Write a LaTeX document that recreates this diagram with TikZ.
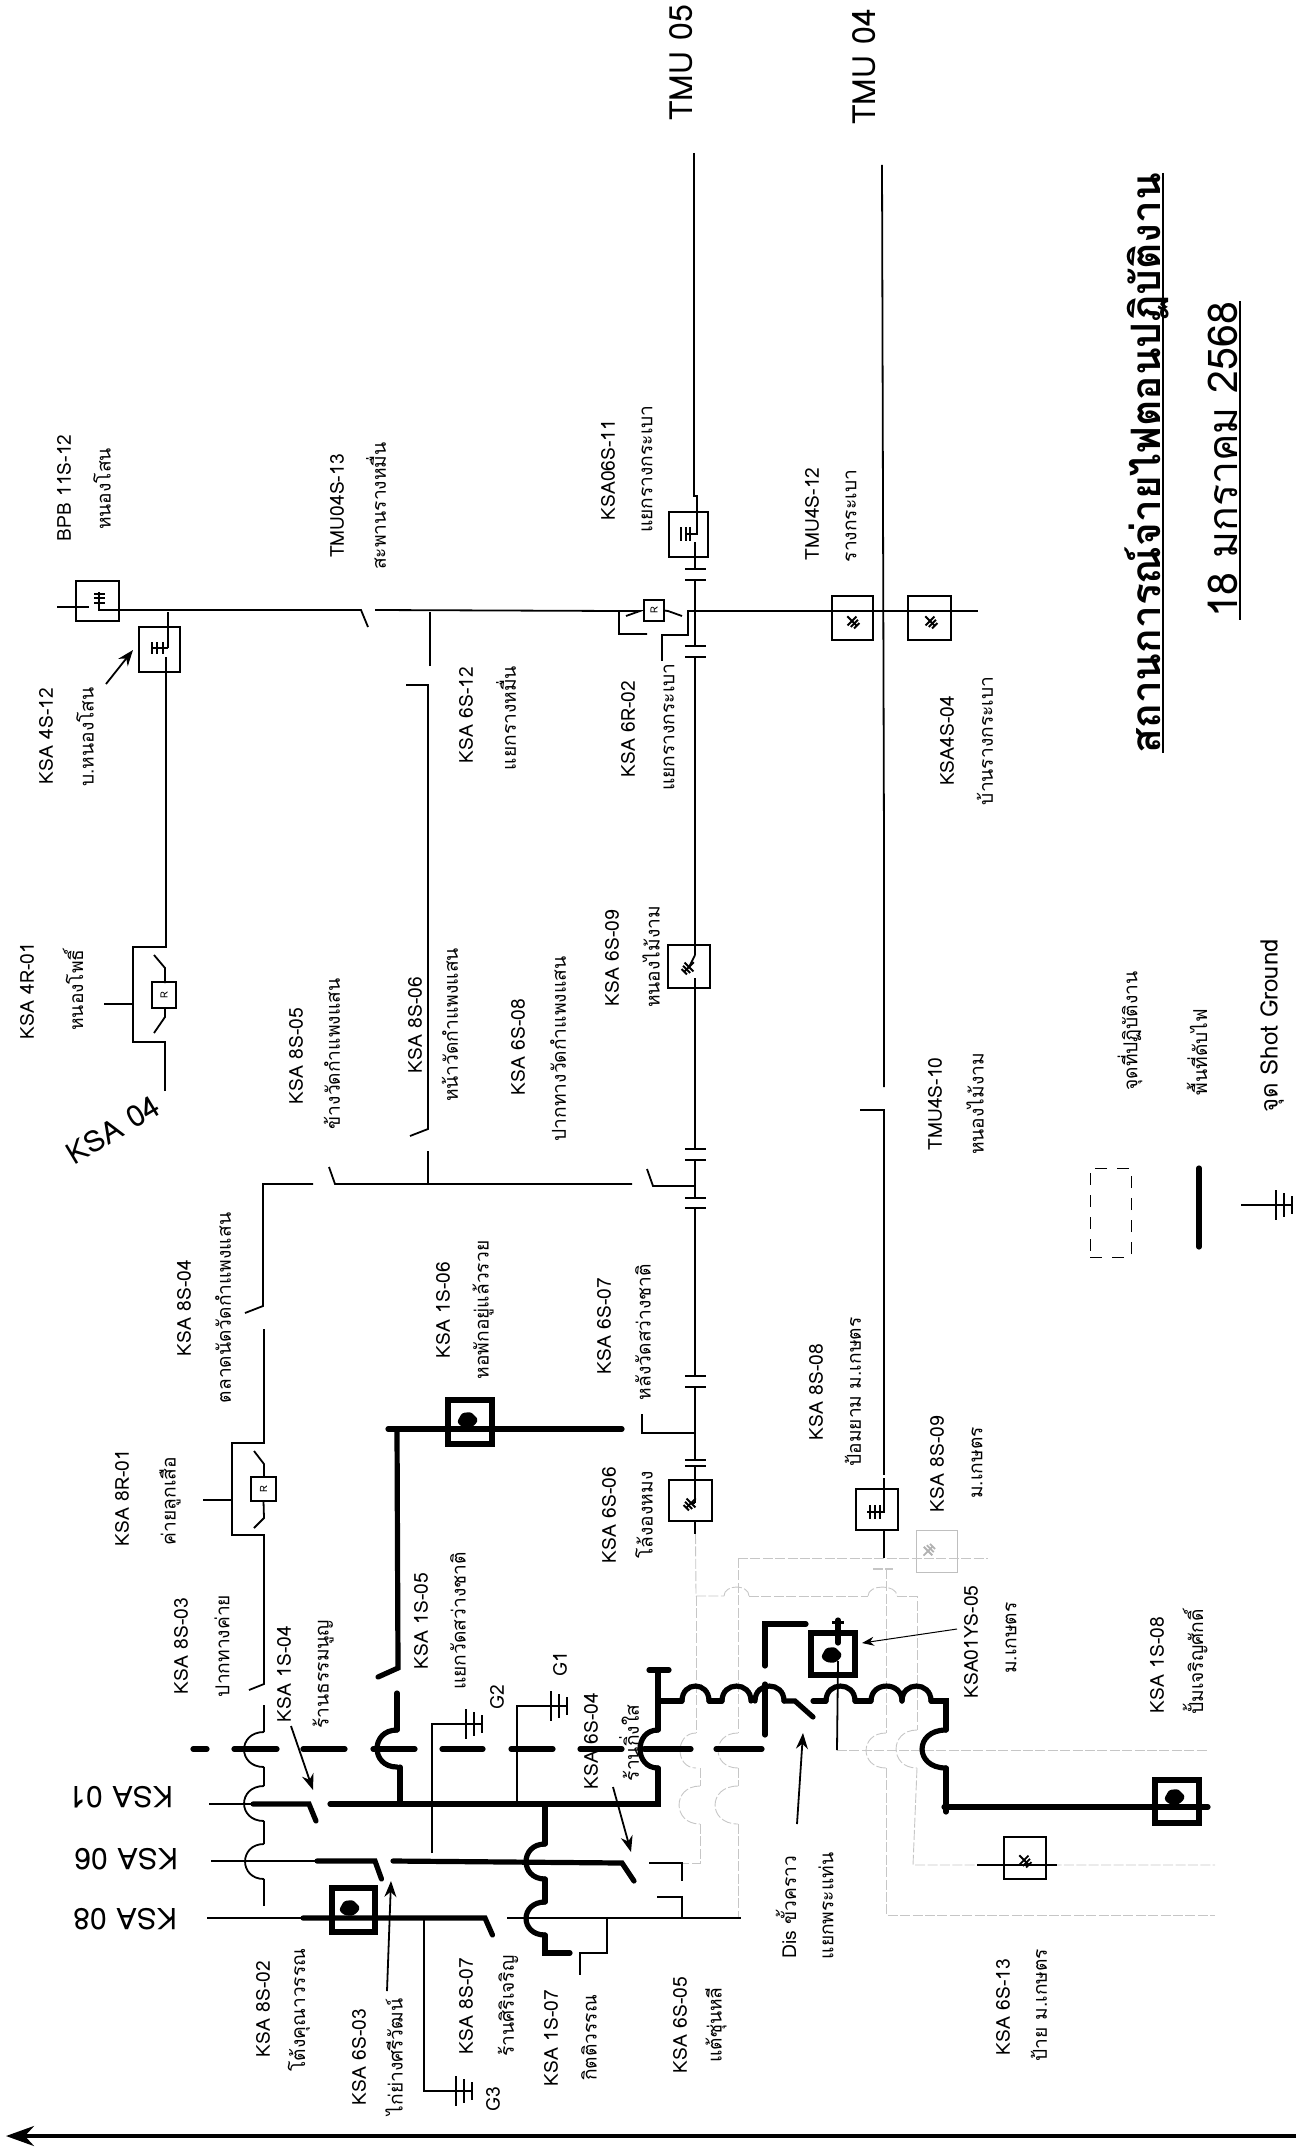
\documentclass[tikz,border=0pt]{standalone}
\usepackage{fontspec}
\setmainfont[Script=Thai]{Loma}
\usetikzlibrary{arrows.meta}
\tikzset{
  thinl/.style={line width=0.9pt},
  thickl/.style={line width=2.6pt,line cap=round},
  grayl/.style={gray!45,line width=0.45pt,dash pattern=on 5pt off 1.2pt},
  thinbox/.style={draw,line width=1pt,inner sep=0,outer sep=0},
  thickbox/.style={draw,line width=2.8pt,inner sep=0,outer sep=0},
  lbl/.style={rotate=90,inner sep=0,font=\fontsize{9.6}{11}\selectfont},
  biglbl/.style={rotate=90,inner sep=0,font=\fontsize{16}{18}\selectfont},
  feeder/.style={rotate=180,inner sep=0,font=\fontsize{15}{18}\selectfont},
  callout/.style={-{Stealth[length=8pt,width=6pt]},line width=0.9pt},
  gndsym/.pic={
    \draw[line width=0.9pt] (-16,0) -- (16,0);
    \draw[line width=0.9pt] (0,-15) -- (0,15);
    \draw[line width=0.9pt] (8,-12) -- (8,12);
    \draw[line width=0.9pt] (16,-9) -- (16,9);
  }
}
\newcommand{\hopv}[5]{\draw[#1] (#2,#3) .. controls ({#2-1.33*#5},#3) and ({#2-1.33*#5},#4) .. (#2,#4);}
\newcommand{\hoph}[5]{\draw[#1] (#2,#4) .. controls (#2,{#4-1.33*#5}) and (#3,{#4-1.33*#5}) .. (#3,#4);}
\newcommand{\blob}[2]{\fill[shift={(#1,#2)},rounded corners=1.2pt] (-11,2) -- (-6,-7) -- (3,-8) -- (10,-1) -- (8,4) -- (2,8) -- (-6,7) -- cycle;}
\begin{document}
\begin{tikzpicture}[x=0.5pt,y=-0.5pt,>=Stealth]
\useasboundingbox (0,0) rectangle (1296,2150);
% --- boxes
\node[thickbox,minimum width=21.5pt,minimum height=22pt] (k6S03) at (353.5,1910) {};
\node[thickbox,minimum width=22pt,minimum height=22pt] (k1S06) at (470,1422) {};
\node[thickbox,minimum width=22pt,minimum height=21.5pt] (k1S08) at (1177,1801.5) {};
\node[thickbox,minimum width=22pt,minimum height=21pt] (kYS05) at (833,1654) {};
\node[thinbox,minimum width=21.5pt,minimum height=20pt] (bBPB) at (97.5,601) {};
\node[thinbox,minimum width=20.5pt,minimum height=22.5pt] (k4S12) at (159.5,649.5) {};
\node[thinbox,minimum width=21pt,minimum height=21.5pt] (k6S09) at (689,966.5) {};
\node[thinbox,minimum width=21.5pt,minimum height=20.5pt] (k6S06) at (690.5,1500.5) {};
\node[thinbox,minimum width=21pt,minimum height=20.5pt] (k8S08) at (877,1509.5) {};
\node[thinbox,minimum width=19.5pt,minimum height=22.5pt] (k6S11) at (688.5,534.5) {};
\node[thinbox,minimum width=20.5pt,minimum height=22pt] (t4S12) at (852.5,618) {};
\node[thinbox,minimum width=21.5pt,minimum height=22pt] (k4S04) at (929.5,618) {};
\node[thinbox,minimum width=21pt,minimum height=21pt] (k6S13) at (1025,1858) {};
\node[thinbox,minimum width=13pt,minimum height=12pt,font=\tiny,rotate=90] (r4R01) at (164,995) {R};
\node[thinbox,minimum width=12pt,minimum height=12.5pt,font=\tiny,rotate=90] (r8R01) at (263.5,1489) {R};
\node[thinbox,minimum width=10.5pt,minimum height=10pt,font=\tiny,rotate=90] (r6R02) at (654,610.5) {R};
\node[draw=gray!50,line width=0.4pt,inner sep=0,minimum width=20.5pt,minimum height=21pt] (k8S09) at (936.5,1551) {};
% --- out of service part
\draw[grayl] (k6S06.south) ++(5,13) -- (696,1596) -- (724,1596);
\hoph{grayl}{724}{749}{1596}{9}
\draw[grayl] (749,1596) -- (868,1596);
\hoph{grayl}{868}{897}{1596}{9}
\draw[grayl] (897,1596) -- (917,1596) -- (917,1730);
\hopv{grayl}{917}{1730}{1768}{21}
\draw[grayl] (917,1768) -- (913,1865) -- (1215,1865);
\draw[grayl] (696,1596) -- (696,1733);
\hopv{grayl}{696}{1733}{1768}{16}
\draw[grayl] (700,1768) -- (700,1786);
\hopv{grayl}{700}{1786}{1824}{21}
\draw[grayl] (700,1824) -- (700,1863) -- (682,1863);
\draw[grayl] (738,1558) -- (738,1733);
\hopv{grayl}{738}{1733}{1768}{20}
\draw[grayl] (738,1768) -- (738,1786);
\hopv{grayl}{738}{1786}{1824}{23}
\draw[grayl] (738,1824) -- (738,1918);
\draw[grayl] (738,1558) -- (988,1558);
\draw[grayl,line width=0.6pt] (873,1569) -- (893,1569);
\draw[grayl] (886,1569) -- (886,1733);
\hopv{grayl}{886}{1733}{1768}{20}
\draw[grayl] (886,1768) -- (886,1915) -- (1215,1915);
\draw[grayl] (837,1750) -- (1208,1750);
\pic[gray!60,scale=0.4,rotate=45] at (928,1551) {gndsym};
% --- KSA 08
\draw[thinl] (207,1918) -- (303,1918);
\draw[thickl] (303,1918) -- (k6S03.center |- 303,1918) -- (485,1918) -- (492.5,1935);
\blob{350}{1908}
\draw[thinl] (507,1918) -- (741,1918);
\draw[thinl] (657,1897) -- (682,1897) -- (682,1918);
\draw[thinl] (607,1918) -- (607,1953) -- (580,1953) -- (580,1975);
% --- KSA 06
\draw[thinl] (211,1861) -- (317,1861);
\draw[thickl] (317,1861) -- (375,1861) -- (381.5,1879);
\draw[thickl] (393,1861) -- (622,1863) -- (634,1881);
\draw[thinl] (649,1863) -- (682,1863) -- (682,1881);
% --- KSA 01
\draw[thinl] (209,1804) -- (253,1804);
\draw[thickl] (253,1804) -- (309,1804) -- (316,1821);
\draw[thickl] (330,1804) -- (658,1804) -- (658,1768);
\hopv{thickl}{658}{1768}{1730}{18}
\draw[thickl] (658,1730) -- (658,1670);
\draw[thickl] (649,1670) -- (669,1670);
\draw[thickl] (658,1701) -- (682,1701);
\hoph{thickl}{682}{709}{1701}{15}
\draw[thickl] (709,1701) -- (722,1701);
\hoph{thickl}{722}{751}{1701}{15}
\hoph{thickl}{755}{784}{1701}{15}
\draw[thickl] (784,1701) -- (795,1701) -- (813,1717);
\draw[thickl] (813,1701) -- (826,1701);
\hoph{thickl}{826}{855}{1701}{15}
\draw[thickl] (855,1701) -- (871,1701);
\hoph{thickl}{871}{902}{1701}{15}
\hoph{thickl}{902}{931}{1701}{15}
\draw[thickl] (931,1701) -- (946,1701) -- (946,1730);
\hopv{thickl}{946}{1730}{1768}{24}
\draw[thickl] (946,1768) -- (946,1812);
\draw[thickl] (944,1807) -- (1208,1807);
\blob{1175}{1797}
\draw[thickl] (806,1624) -- (765,1624) -- (765,1666);
\draw[thickl] (765,1684) -- (765,1735);
\draw[thickl] (838,1620) -- (838,1643);
\draw[line width=1.5pt] (832,1622) -- (844,1622);
\blob{832}{1655}
\draw[thinl] (838,1661) -- (837,1750);
% --- dashed thick bus
\foreach \a/\b in {193/207,234/277,303/345,373/415,442/483,511/553,580/622,644/691,716/762}
  \draw[thickl] (\a,1749) -- (\b,1749);
% --- 8S line
\draw[thinl] (264,1906) -- (264,1879);
\hopv{thinl}{264}{1879}{1844}{19}
\draw[thinl] (264,1844) -- (264,1821);
\hopv{thinl}{264}{1821}{1786}{20}
\draw[thinl] (264,1786) -- (264,1767);
\hopv{thinl}{264}{1767}{1732}{20}
\draw[thinl] (264,1732) -- (264,1705);
\draw[thinl] (249,1690) -- (264,1684) -- (264,1535) -- (232,1535) -- (232,1443) -- (264,1443) -- (264,1329);
\draw[thinl] (203,1500) -- (232,1500);
\draw[thinl] (r8R01.center |- 0,1501) -- (264,1518) -- (254,1528);
\draw[thinl] (264,1477) -- (264,1464) -- (254,1451);
\draw[thinl] (245,1313) -- (263,1306) -- (263,1184) -- (313,1184);
\draw[thinl] (329,1167) -- (335,1184) -- (632,1184);
\draw[thinl] (647,1169) -- (653,1186) -- (695,1186);
\draw[thinl] (428,1184) -- (428,1151);
\draw[thinl] (410,1136) -- (428,1129) -- (428,685) -- (406,685);
\draw[thinl] (430,666) -- (430,612);
% --- KSA 04 line
\draw[thinl] (165,1091) -- (165,1042) -- (133,1042) -- (133,947) -- (166,947) -- (166,657);
\draw[thinl] (104,1004) -- (133,1004);
\draw[thinl] (154,1033) -- (165,1017) -- (165,1007);
\draw[thinl] (165,983) -- (165,968) -- (154,955);
\draw[thinl] (57,607) -- (89,607);
\draw[thinl] (99,592) -- (99,610) -- (361,610) -- (368,627);
\draw[thinl] (168,648) -- (168,612);
\draw[thinl] (168,648) -- (152,648);
\foreach \a/\h in {152/6,157/6,163/6} \draw[line width=1.1pt] (\a,{648-\h}) -- (\a,{648+\h});
\foreach \a in {594,598,603} \draw[line width=1.1pt] (94,\a) -- (105,\a);
\draw[thinl] (375,610) -- (619,611) -- (619,634) -- (647,634);
\draw[thinl] (619,611) -- (640,611) -- (626,616);
\draw[thinl] (r6R02.south) ++(0,0) -- (668,611) -- (682,616);
\draw[thinl] (705,611) -- (688,611) -- (688,635) -- (662,635) -- (662,661);
% --- TMU 05 trunk
\draw[thinl] (694,153) -- (694,496) -- (697,496) -- (697,534) -- (686,534);
\foreach \a/\h in {681/7,686/7,690/7} \draw[line width=1.1pt] (\a,{534-\h}) -- (\a,{534+\h});
\draw[thinl] (695,542) -- (695,569);
\foreach \a in {569,580,646,657,1149,1160,1198,1208,1376,1387,1460,1466}
  \draw[thinl] (685,\a) -- (706,\a);
\draw[thinl] (695,580) -- (695,646);
\draw[thinl] (695,657) -- (695,955);
\draw[thinl] (695,978) -- (695,1149);
\draw[thinl] (695,1160) -- (695,1198);
\draw[thinl] (695,1208) -- (695,1376);
\draw[thinl] (695,1387) -- (695,1460);
\draw[thinl] (695,1466) -- (695,1503);
\draw[thinl] (695,1521) -- (695,1534);
\draw[thinl] (642,1414) -- (642,1433) -- (695,1433);
\pic[scale=0.42,rotate=-135] at (689,967) {gndsym};
\draw[line width=0.9pt] (695,955) -- (689,967);
\pic[scale=0.42,rotate=-135] at (691,1503) {gndsym};
\draw[line width=0.9pt] (695,1503) -- (691,1503);
% --- tie line Y=611
\draw[thinl] (705,611) -- (t4S12.center |- 0,611) -- (k4S04.center |- 0,611);
\draw[thinl] (k4S04.center |- 0,611) -- (978,611);
\pic[scale=0.42,rotate=-45] at (852,621) {gndsym};
\pic[scale=0.42,rotate=-45] at (930,621) {gndsym};
% --- TMU 04 trunk
\draw[thinl] (882,165) -- (884,850) -- (884,1087);
\draw[thinl] (860,1110) -- (884,1110) -- (884,1475);
\draw[thinl] (884,1478) -- (884,1512) -- (867,1512);
\foreach \a in {870,875,880} \draw[line width=1.1pt] (\a,1505) -- (\a,1519);
\draw[thinl] (884,1530) -- (884,1558);
% --- KSA 1S line
\draw[thickl] (378,1677) -- (398,1668) -- (397,1429);
\draw[thickl] (388,1429) -- (622,1429);
\blob{468}{1420}
\draw[thickl] (397,1693) -- (397,1730);
\hopv{thickl}{397}{1730}{1767}{20}
\draw[thickl] (400,1767) -- (400,1804);
% --- tie 1S-07
\draw[thickl] (545,1804) -- (545,1844);
\hopv{thickl}{545}{1844}{1879}{19}
\draw[thickl] (545,1879) -- (545,1902);
\hopv{thickl}{545}{1902}{1935}{19}
\draw[thickl] (545,1935) -- (545,1953) -- (570,1953);
% --- G1 G2 G3
\draw[thinl] (432,1853) -- (432,1724) -- (466,1724);
\pic at (466,1724) {gndsym};
\draw[thinl] (517,1804) -- (517,1706) -- (551,1706);
\pic at (551,1706) {gndsym};
\draw[thinl] (424,1919) -- (424,2091) -- (455,2091);
\pic at (456,2091) {gndsym};
% --- 6S-13
\draw[thinl] (977,1865) -- (1057,1865);
\pic[scale=0.42,rotate=-45] at (1024,1860) {gndsym};
% --- legend
\node[draw,dash pattern=on 6pt off 5pt,line width=0.5pt,inner sep=0,minimum width=20.5pt,minimum height=44.5pt] (lgArea) at (1110.5,1212.5) {};
\draw[thickl] (1199,1168) -- (1199,1247);
\draw[thinl] (1241,1205) -- (1276,1205);
\pic at (1276,1205) {gndsym};
% --- arrows
\draw[callout] (106,684) -- (133,650);
\draw[callout] (291,1726) -- (313,1790);
\draw[callout] (387,1991) -- (391,1881);
\draw[callout] (613,1787) -- (631,1852);
\draw[callout] (797,1824) -- (803,1733);
\draw[-{Stealth[length=6pt,width=4.5pt]},line width=0.5pt] (957,1629) -- (862,1643);
\draw[-{Stealth[length=14pt,width=10pt]},line width=1.7pt] (1296,2136) -- (6,2136);
% --- labels
\foreach \nm/\x/\y/\txt in {
  a1/64/488/BPB 11S-12, a2/102/489/หนองโสน,
  a3/337/506/TMU04S-13, a4/376/506/สะพานรางหมื่น,
  a5/46/736/KSA 4S-12, a6/85/737/บ.หนองโสน,
  a7/466/715/KSA 6S-12, a8/506/718/แยกรางหมื่น,
  a9/628/729/KSA 6R-02, a10/669/727/แยกรางกระเบา,
  a11/608/470/KSA06S-11, a12/647/469/แยกรางกระเบา,
  a13/812/514/TMU4S-12, a14/851/516/รางกระเบา,
  a15/947/741/KSA4S-04, a16/985/741/บ้านรางกระเบา,
  b1/27/991/KSA 4R-01, b2/73/990/หนองโพธิ์,
  b3/296/1056/KSA 8S-05, b4/332/1054/ข้างวัดกำแพงแสน,
  b5/415/1025/KSA 8S-06, b6/450/1025/หน้าวัดกำแพงแสน,
  b7/518/1047/KSA 6S-08, b8/558/1049/ปากทางวัดกำแพงแสน,
  b9/612/958/KSA 6S-09, b10/651/957/หนองไม้งาม,
  b11/184/1308/KSA 8S-04, b12/223/1308/ตลาดนัดวัดกำแพงแสน,
  b13/443/1310/KSA 1S-06, b14/483/1310/หอพักอยู่แล้วรวย,
  b15/604/1326/KSA 6S-07, b16/643/1332/หลังวัดสว่างชาติ,
  b17/122/1498/KSA 8R-01, b18/170/1501/ค่ายลูกเสือ,
  c1/935/1104/TMU4S-10, c2/975/1104/หนองไม้งาม,
  c3/816/1392/KSA 8S-08, c4/853/1392/ป้อมยาม ม.เกษตร,
  c5/937/1464/KSA 8S-09, c6/977/1463/ม.เกษตร,
  c7/609/1515/KSA 6S-06, c8/644/1515/โล้งองหมง,
  c9/971/1642/KSA01YS-05, c10/1011/1638/ม.เกษตร,
  c11/1157/1665/KSA 1S-08, c12/1195/1662/ปั้มเจริญศักดิ์,
  c13/1003/2007/KSA 6S-13, c14/1039/2005/ป้าย ม.เกษตร,
  c15/786/1907/Dis ขั้วคราว, c16/826/1906/แยกพระแท่น,
  c17/680/2025/KSA 6S-05, c18/716/2025/แต้ซุ่นหลี,
  c19/591/1741/KSA 6S-04, c20/629/1743/ร้านกิ่งใส,
  d1/181/1646/KSA 8S-03, d2/222/1646/ปากทางค่าย,
  d3/284/1674/KSA 1S-04, d4/323/1674/ร้านธรรมนูญ,
  d5/421/1621/KSA 1S-05, d6/458/1621/แยกวัดสว่างชาติ,
  d7/263/2009/KSA 8S-02, d8/299/2010/โต้งคุณาวรรณ,
  d9/359/2057/KSA 6S-03, d10/394/2057/ไก่ย่างศรีวัฒน์,
  d11/466/2006/KSA 8S-07, d12/508/2006/ร้านศิริเจริญ,
  d13/551/2038/KSA 1S-07, d14/589/2038/กิตติวรรณ,
  e1/497/1697/G2, e2/560/1664/G1, e3/493/2099/G3,
  e4/1130/1031/จุดที่ปฏิบัติงาน, e5/1197/1052/พื้นที่ดับไฟ}
  \node[lbl] (\nm) at (\x,\y) {\txt};
\node[lbl,font=\fontsize{12}{14}\selectfont] (lgGround) at (1272,1026) {จุด Shot Ground};
\node[biglbl] (tmu05) at (681,63) {TMU 05};
\node[biglbl] (tmu04) at (864,67) {TMU 04};
\node[feeder] (ksa08) at (125,1919) {KSA 08};
\node[feeder] (ksa06) at (126,1859) {KSA 06};
\node[feeder] (ksa01) at (121,1797) {KSA 01};
\node[rotate=31,inner sep=0,font=\fontsize{15}{17}\selectfont] (ksa04) at (113,1130) {KSA 04};
\node[biglbl,font=\fontsize{20.3}{24}\selectfont\bfseries] (title1) at (1147,463) {สถานการณ์จ่ายไฟตอนปฏิบัติงาน};
\node[biglbl,font=\fontsize{20.5}{24}\selectfont] (title2) at (1223,460) {18 มกราคม 2568};
\draw[line width=1.1pt] (1163,173) -- (1163,753);
\draw[line width=1.1pt] (1240,301) -- (1240,620);
\end{tikzpicture}
\end{document}
